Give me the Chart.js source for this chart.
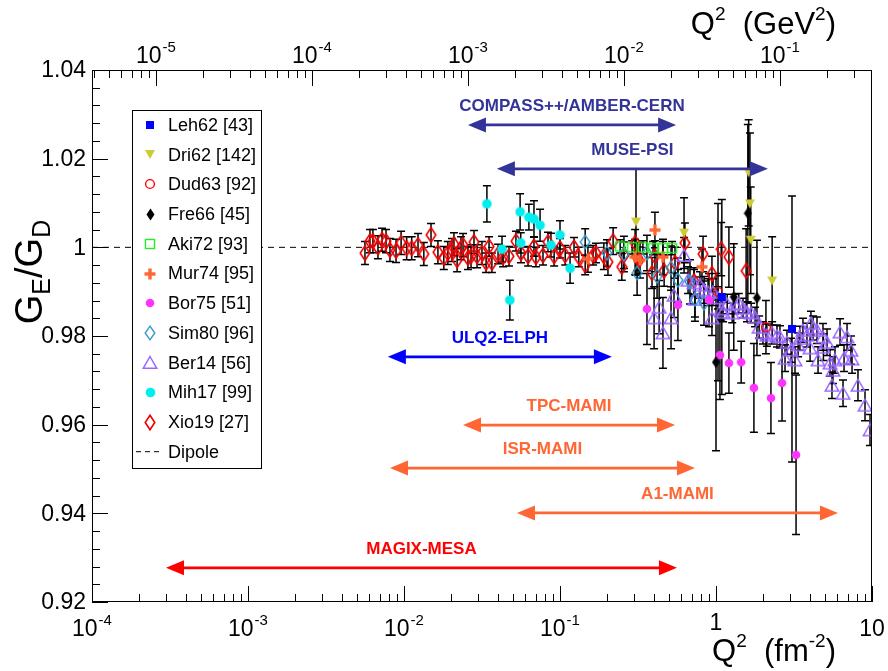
<!DOCTYPE html>
<html lang="en">
<head>
  <meta charset="UTF-8">
  <title>GE/GD vs Q2</title>
  <script src="https://cdn.jsdelivr.net/npm/chart.js"></script>
  <style>
    html, body { margin: 0; padding: 0; background: #fff; }
  </style>
</head>
<body>
  <canvas id="ffChart" width="888" height="671"></canvas>
  <script>
    // Q2 in fm^-2, ratio GE/GD, error
    const HBARC2 = 0.0389379; // GeV^2 per fm^-2 (top axis)

    const leh62Q2 = [1.09, 3.07];
    const leh62G = [0.9888, 0.9816];
    const leh62Err = [0.022, 0.030];

    const dri62Q2 = [0.307, 0.624, 1.62, 1.65, 1.67, 2.29];
    const dri62G = [1.0057, 1.0032, 1.0168, 1.0098, 1.0016, 0.9924];
    const dri62Err = [0.012, 0.008, 0.012, 0.016, 0.012, 0.010];

    const dud63Q2 = [1.03, 2.09];
    const dud63G = [0.9899, 0.9820];
    const dud63Err = [0.020, 0.006];

    const fre66Q2 = [1.00, 1.30, 1.60, 1.83];
    const fre66G = [0.9741, 0.9888, 1.0077, 0.9886];
    const fre66Err = [0.020, 0.012, 0.020, 0.013];

    const aki72Q2 = [0.243, 0.290, 0.340, 0.395, 0.457, 0.523];
    const aki72G = [1.0002, 1.0000, 1.0000, 0.9998, 0.9998, 0.9998];
    const aki72Err = [0.0015, 0.0015, 0.0015, 0.0015, 0.0015, 0.0015];

    const mur74Q2 = [0.151, 0.303, 0.326, 0.406, 0.457, 0.813];
    const mur74G = [0.9974, 0.9978, 0.9971, 1.0039, 0.9978, 0.9956];
    const mur74Err = [0.003, 0.004, 0.004, 0.004, 0.004, 0.004];

    const bor75Q2 = [0.361, 0.570, 0.902, 1.06, 1.21, 1.45, 1.75, 2.25, 2.65, 3.26];
    const bor75G = [0.9861, 0.9870, 0.9881, 0.9757, 0.9739, 0.9741, 0.9683, 0.9660, 0.9694, 0.9532];
    const bor75Err = [0.008, 0.008, 0.006, 0.010, 0.0068, 0.0047, 0.010, 0.008, 0.0086, 0.018];

    const sim80Q2 = [0.145, 0.200, 0.257, 0.312, 0.361, 0.419, 0.515, 0.570, 0.681, 0.733, 0.838];
    const sim80G = [1.0012, 0.9987, 0.9985, 0.9942, 0.9987, 0.9935, 0.9953, 0.9926, 0.9922, 0.9883, 0.9874];
    const sim80Err = [0.003, 0.003, 0.004, 0.005, 0.004, 0.005, 0.005, 0.005, 0.005, 0.005, 0.005];

    const ber14Q2 = [0.401, 0.432, 0.457, 0.515, 0.538, 0.624, 0.662, 0.723, 0.733, 0.789,
      0.838, 0.889, 0.942, 0.957, 1.03, 1.08, 1.11, 1.18, 1.27, 1.32,
      1.40, 1.49, 1.58, 1.68, 1.78, 1.89, 2.00, 2.12, 2.29, 2.46,
      2.57, 2.77, 2.85, 3.03, 3.21, 3.36, 3.45, 3.61, 3.83, 4.01,
      4.06, 4.19, 4.44, 4.51, 4.85, 4.88, 5.15, 5.38, 5.54, 5.62,
      5.79, 6.24, 6.52, 6.62, 6.92, 7.33, 7.45, 8.13, 9.02, 9.71];
    const ber14G = [0.9841, 0.9865, 0.9807, 0.9841, 0.9892, 0.9982, 0.9926, 0.9920, 0.9883, 0.9915,
      0.9904, 0.9899, 0.9841, 0.9899, 0.9886, 0.9861, 0.9854, 0.9872, 0.9852, 0.9872,
      0.9874, 0.9863, 0.9854, 0.9852, 0.9843, 0.9820, 0.9807, 0.9802, 0.9807, 0.9800,
      0.9798, 0.9750, 0.9786, 0.9768, 0.9746, 0.9780, 0.9795, 0.9813, 0.9802, 0.9773,
      0.9829, 0.9818, 0.9813, 0.9746, 0.9798, 0.9775, 0.9786, 0.9739, 0.9689, 0.9723,
      0.9746, 0.9809, 0.9671, 0.9750, 0.9798, 0.9768, 0.9748, 0.9689, 0.9644, 0.9588];
    const ber14Err = [0.007, 0.006, 0.008, 0.007, 0.005, 0.004, 0.003, 0.003, 0.004, 0.003,
      0.003, 0.003, 0.004, 0.003, 0.0025, 0.0025, 0.0022, 0.0022, 0.0022, 0.0022,
      0.0022, 0.0022, 0.0022, 0.0022, 0.0022, 0.0025, 0.0025, 0.0025, 0.0025, 0.0025,
      0.0025, 0.003, 0.0027, 0.0027, 0.003, 0.0027, 0.0027, 0.0027, 0.0027, 0.003,
      0.0027, 0.0027, 0.003, 0.003, 0.003, 0.003, 0.003, 0.003, 0.003, 0.003,
      0.003, 0.003, 0.003, 0.003, 0.003, 0.0032, 0.0032, 0.0035, 0.0035, 0.0035];

    const mih17Q2 = [0.0340, 0.0425, 0.0477, 0.0555, 0.0560, 0.0632, 0.0681, 0.0745, 0.0875, 0.100, 0.116];
    const mih17G = [1.0098, 0.9996, 0.9881, 1.0080, 1.0010, 1.0068, 1.0064, 1.0050, 1.0005, 1.0028, 0.9953];
    const mih17Err = [0.0041, 0.0029, 0.0045, 0.0041, 0.0023, 0.0029, 0.0041, 0.0036, 0.0027, 0.0032, 0.0034];

    const xio19Q2 = [0.00562, 0.00605, 0.00632, 0.00681, 0.00723, 0.00767, 0.00813, 0.00889, 0.00958, 0.0104,
      0.0112, 0.0123, 0.0134, 0.0149, 0.0165, 0.0180, 0.0191, 0.0203, 0.0209, 0.0219,
      0.0232, 0.0239, 0.0257, 0.0269, 0.0281, 0.0294, 0.0316, 0.0336, 0.0351, 0.0366,
      0.0401, 0.0432, 0.0471, 0.0522, 0.0562, 0.0624, 0.0681, 0.0701, 0.0778, 0.0838,
      0.0917, 0.100, 0.108, 0.123, 0.132, 0.145, 0.163, 0.170, 0.191, 0.203,
      0.219, 0.249, 0.257, 0.303, 0.312, 0.321, 0.389, 0.406, 0.465, 0.546,
      0.632, 0.723, 0.826, 0.942, 1.08, 1.21, 1.56];
    const xio19G = [0.9987, 1.0014, 1.0014, 1.0000, 1.0017, 1.0014, 0.9994, 0.9992, 1.0010, 0.9998,
      0.9998, 1.0005, 0.9985, 1.0028, 0.9989, 0.9976, 0.9987, 0.9994, 1.0007, 0.9971,
      0.9998, 1.0005, 0.9976, 0.9980, 1.0012, 0.9980, 0.9987, 0.9965, 1.0002, 0.9965,
      0.9985, 0.9978, 0.9980, 1.0014, 0.9987, 0.9980, 1.0002, 0.9978, 0.9982, 1.0012,
      0.9980, 0.9998, 0.9982, 1.0000, 0.9978, 0.9960, 0.9982, 0.9987, 0.9980, 0.9967,
      1.0014, 0.9956, 0.9982, 1.0010, 0.9978, 0.9971, 0.9942, 0.9980, 0.9947, 0.9965,
      1.0010, 0.9924, 0.9985, 0.9940, 0.9996, 0.9978, 0.9947];
    const xio19Err = [0.0026, 0.0026, 0.0026, 0.0026, 0.0026, 0.0026, 0.0026, 0.0026, 0.0026, 0.0026,
      0.0026, 0.0026, 0.0026, 0.0026, 0.0026, 0.0026, 0.0026, 0.0026, 0.0026, 0.0026,
      0.0026, 0.0026, 0.0026, 0.0026, 0.0026, 0.0026, 0.0026, 0.0022, 0.0022, 0.0022,
      0.0022, 0.0022, 0.0022, 0.0022, 0.0022, 0.0022, 0.0022, 0.0022, 0.0022, 0.0022,
      0.0022, 0.0022, 0.0022, 0.0022, 0.0022, 0.0022, 0.0022, 0.0022, 0.003, 0.003,
      0.003, 0.003, 0.003, 0.003, 0.003, 0.003, 0.0035, 0.0035, 0.0035, 0.0035,
      0.0045, 0.003, 0.004, 0.004, 0.006, 0.0068, 0.0095];

    // future experiments: Q2 range in fm^-2 and height on the GE/GD axis
    const arrowLabels = ['COMPASS++/AMBER-CERN', 'MUSE-PSI', 'ULQ2-ELPH', 'TPC-MAMI', 'ISR-MAMI', 'A1-MAMI', 'MAGIX-MESA'];
    const arrowFrom = [0.0257, 0.0394, 0.00788, 0.0239, 0.00813, 0.0530, 0.000298];
    const arrowTo = [0.555, 2.15, 0.215, 0.546, 0.733, 6.05, 0.562];
    const arrowLevel = [1.0276, 1.0177, 0.9753, 0.9599, 0.9502, 0.9401, 0.9277];
    const arrowColors = ['#333399', '#333399', '#0000ff', '#ff6633', '#ff6633', '#ff6633', '#ff0000'];

    // axis ticks
    const xTickValues = [1e-4, 1e-3, 1e-2, 1e-1, 1, 10];
    const xTickLabels = [['10', '-4'], ['10', '-3'], ['10', '-2'], ['10', '-1'], ['1', ''], ['10', '']];
    const topTickValues = [1e-5, 1e-4, 1e-3, 1e-2, 1e-1]; // GeV^2
    const topTickLabels = [['10', '-5'], ['10', '-4'], ['10', '-3'], ['10', '-2'], ['10', '-1']];
    const yTickValues = [0.92, 0.94, 0.96, 0.98, 1.00, 1.02, 1.04];
    const yTickLabels = ['0.92', '0.94', '0.96', '0.98', '1', '1.02', '1.04'];

    const FONT = '"Liberation Sans", Arial, Helvetica, sans-serif';

    // ---- ROOT-like marker images ----
    function marker(w, h, paint) {
      const c = document.createElement('canvas');
      c.width = w; c.height = h;
      paint(c.getContext('2d'));
      return c;
    }
    function diamondPath(g, w, h, m) {
      g.beginPath();
      g.moveTo(w / 2, m); g.lineTo(w - m, h / 2); g.lineTo(w / 2, h - m); g.lineTo(m, h / 2);
      g.closePath();
    }
    const mLeh = marker(10, 10, g => { g.fillStyle = '#0000ff'; g.fillRect(1, 1, 8, 8); });
    const mDri = marker(12, 11, g => {
      g.fillStyle = '#cccc33'; g.beginPath(); g.moveTo(1, 1); g.lineTo(11, 1); g.lineTo(6, 10); g.closePath(); g.fill();
    });
    const mDud = marker(12, 12, g => { g.strokeStyle = '#ff0000'; g.lineWidth = 1.4; g.beginPath(); g.arc(6, 6, 4.4, 0, Math.PI * 2); g.stroke(); });
    const mFre = marker(9, 13, g => { g.fillStyle = '#000'; diamondPath(g, 9, 13, 0.5); g.fill(); });
    const mAki = marker(12, 12, g => { g.strokeStyle = '#22ee22'; g.lineWidth = 1.4; g.strokeRect(1.5, 1.5, 9, 9); });
    const mMur = marker(12, 12, g => { g.fillStyle = '#ff6633'; g.fillRect(4.3, 0.5, 3.4, 11); g.fillRect(0.5, 4.3, 11, 3.4); });
    const mBor = marker(10, 10, g => { g.fillStyle = '#ff33ff'; g.beginPath(); g.arc(5, 5, 4.3, 0, Math.PI * 2); g.fill(); });
    const mSim = marker(12, 16, g => { g.strokeStyle = '#3399cc'; g.lineWidth = 1.4; diamondPath(g, 12, 16, 1.2); g.stroke(); });
    const mBer = marker(16, 15, g => {
      g.strokeStyle = '#9966ff'; g.lineWidth = 1.5; g.beginPath();
      g.moveTo(8, 1.5); g.lineTo(14.8, 13.3); g.lineTo(1.2, 13.3); g.closePath(); g.stroke();
    });
    const mMih = marker(11, 11, g => { g.fillStyle = '#00eeee'; g.beginPath(); g.arc(5.5, 5.5, 4.8, 0, Math.PI * 2); g.fill(); });
    const mXio = marker(12, 17, g => { g.strokeStyle = '#ee0000'; g.lineWidth = 1.6; diamondPath(g, 12, 17, 1.2); g.stroke(); });

    function series(label, q2, gg, err, style) {
      return {
        type: 'scatter',
        label: label,
        data: q2.map((q, i) => ({ x: q, y: gg[i] })),
        err: err,
        pointStyle: style,
        pointRadius: 5,
        pointHoverRadius: 5
      };
    }

    const datasets = [
      series('Leh62 [43]', leh62Q2, leh62G, leh62Err, mLeh),
      series('Dri62 [142]', dri62Q2, dri62G, dri62Err, mDri),
      series('Dud63 [92]', dud63Q2, dud63G, dud63Err, mDud),
      series('Fre66 [45]', fre66Q2, fre66G, fre66Err, mFre),
      series('Aki72 [93]', aki72Q2, aki72G, aki72Err, mAki),
      series('Mur74 [95]', mur74Q2, mur74G, mur74Err, mMur),
      series('Bor75 [51]', bor75Q2, bor75G, bor75Err, mBor),
      series('Sim80 [96]', sim80Q2, sim80G, sim80Err, mSim),
      series('Ber14 [56]', ber14Q2, ber14G, ber14Err, mBer),
      series('Mih17 [99]', mih17Q2, mih17G, mih17Err, mMih),
      series('Xio19 [27]', xio19Q2, xio19G, xio19Err, mXio),
      {
        type: 'line', label: 'Dipole', order: 50,
        data: [{ x: 1e-4, y: 1 }, { x: 10, y: 1 }],
        borderColor: '#000', borderWidth: 1, borderDash: [6, 5], pointRadius: 0
      }
    ];

    // error bars under the markers
    const errorBars = {
      id: 'errorBars',
      beforeDatasetsDraw(chart) {
        const { ctx, chartArea: a, scales: { x, y } } = chart;
        ctx.save();
        ctx.beginPath(); ctx.rect(a.left, a.top, a.right - a.left, a.bottom - a.top); ctx.clip();
        ctx.strokeStyle = '#000'; ctx.lineWidth = 1.5;
        chart.data.datasets.forEach(ds => {
          if (!ds.err) return;
          ds.data.forEach((p, i) => {
            const px = x.getPixelForValue(p.x);
            const t = y.getPixelForValue(p.y + ds.err[i]);
            const b = y.getPixelForValue(p.y - ds.err[i]);
            ctx.beginPath();
            ctx.moveTo(px, t); ctx.lineTo(px, b);
            ctx.moveTo(px - 4, t); ctx.lineTo(px + 4, t);
            ctx.moveTo(px - 4, b); ctx.lineTo(px + 4, b);
            ctx.stroke();
          });
        });
        ctx.restore();
      }
    };

    // double arrows for the planned experiments
    const rangeArrows = {
      id: 'rangeArrows',
      afterDatasetsDraw(chart) {
        const { ctx, scales: { x, y } } = chart;
        ctx.save();
        arrowLabels.forEach((lab, i) => {
          const x1 = x.getPixelForValue(arrowFrom[i]);
          const x2 = x.getPixelForValue(arrowTo[i]);
          const py = y.getPixelForValue(arrowLevel[i]);
          const head = 18, half = 7.5;
          ctx.strokeStyle = arrowColors[i]; ctx.fillStyle = arrowColors[i];
          ctx.lineWidth = 2.8;
          ctx.beginPath(); ctx.moveTo(x1 + head - 2, py); ctx.lineTo(x2 - head + 2, py); ctx.stroke();
          ctx.beginPath(); ctx.moveTo(x1, py); ctx.lineTo(x1 + head, py - half); ctx.lineTo(x1 + head, py + half); ctx.closePath(); ctx.fill();
          ctx.beginPath(); ctx.moveTo(x2, py); ctx.lineTo(x2 - head, py - half); ctx.lineTo(x2 - head, py + half); ctx.closePath(); ctx.fill();
          ctx.font = 'bold 17px ' + FONT;
          ctx.textAlign = 'center'; ctx.textBaseline = 'middle';
          ctx.fillText(lab, (x1 + x2) / 2, py - 19);
        });
        ctx.restore();
      }
    };

    function powLabel(ctx, cx, base, pair, big, small, rise) {
      ctx.font = big + 'px ' + FONT;
      const w1 = ctx.measureText(pair[0]).width;
      ctx.font = small + 'px ' + FONT;
      const w2 = pair[1] ? ctx.measureText(pair[1]).width + 1 : 0;
      const x0 = cx - (w1 + w2) / 2;
      ctx.textAlign = 'left'; ctx.textBaseline = 'alphabetic';
      ctx.font = big + 'px ' + FONT;
      ctx.fillText(pair[0], x0, base);
      if (pair[1]) {
        ctx.font = small + 'px ' + FONT;
        ctx.fillText(pair[1], x0 + w1 + 1, base - rise);
      }
    }

    // draws a sequence of [text, size, dy] pieces, returns total width
    function pieces(ctx, list, x0, base, measureOnly) {
      let xx = x0;
      list.forEach(p => {
        ctx.font = p[1] + 'px ' + FONT;
        if (!measureOnly) ctx.fillText(p[0], xx, base + p[2]);
        xx += ctx.measureText(p[0]).width;
      });
      return xx - x0;
    }

    // frame, inward ticks, labels and titles in ROOT style
    const rootAxes = {
      id: 'rootAxes',
      afterDraw(chart) {
        const { ctx, chartArea: a, scales: { x, y } } = chart;
        ctx.save();
        ctx.strokeStyle = '#000'; ctx.fillStyle = '#000'; ctx.lineWidth = 1;
        ctx.strokeRect(Math.round(a.left) + 0.5, Math.round(a.top) + 0.5, Math.round(a.right - a.left) - 1, Math.round(a.bottom - a.top) - 1);

        ctx.beginPath();
        for (let e = -4; e <= 1; e++) {
          for (let k = 1; k <= 9; k++) {
            const v = k * Math.pow(10, e);
            if (v > 10.0001) continue;
            const px = Math.round(x.getPixelForValue(v)) + 0.5;
            const len = k === 1 ? 16 : 8;
            ctx.moveTo(px, a.bottom); ctx.lineTo(px, a.bottom - len);
          }
        }
        for (let e = -6; e <= 0; e++) {
          for (let k = 1; k <= 9; k++) {
            const v = k * Math.pow(10, e) / HBARC2;
            if (v < 1e-4 || v > 10) continue;
            const px = Math.round(x.getPixelForValue(v)) + 0.5;
            const len = k === 1 ? 16 : 8;
            ctx.moveTo(px, a.top); ctx.lineTo(px, a.top + len);
          }
        }
        for (let i = 0; i <= 30; i++) {
          const v = 0.92 + i * 0.004;
          const py = Math.round(y.getPixelForValue(v)) + 0.5;
          const len = i % 5 === 0 ? 16 : 8;
          ctx.moveTo(a.left, py); ctx.lineTo(a.left + len, py);
        }
        ctx.stroke();

        // tick labels
        xTickValues.forEach((v, i) => {
          const px = x.getPixelForValue(v);
          const base = xTickLabels[i][1] ? 636 : (v === 1 ? 630 : 636);
          powLabel(ctx, px, base, xTickLabels[i], 23, 15, 11);
        });
        topTickValues.forEach((v, i) => {
          powLabel(ctx, x.getPixelForValue(v / HBARC2), 63, topTickLabels[i], 23, 15, 11);
        });
        ctx.font = '23px ' + FONT;
        ctx.textAlign = 'right'; ctx.textBaseline = 'middle';
        yTickValues.forEach((v, i) => {
          ctx.fillText(yTickLabels[i], a.left - 6, y.getPixelForValue(v) + 1);
        });

        // axis titles
        ctx.textAlign = 'left'; ctx.textBaseline = 'alphabetic';
        const bottomTitle = [['Q', 31, 0], ['2', 19, -14], ['  (fm', 31, 0], ['-2', 19, -14], [')', 31, 0]];
        let w = pieces(ctx, bottomTitle, 0, 0, true);
        pieces(ctx, bottomTitle, 836 - w, 661, false);
        const topTitle = [['Q', 31, 0], ['2', 19, -14], ['  (GeV', 31, 0], ['2', 19, -14], [')', 31, 0]];
        w = pieces(ctx, topTitle, 0, 0, true);
        pieces(ctx, topTitle, 836 - w, 34, false);

        const yTitle = [['G', 38, 0], ['E', 25, 8], ['/G', 38, 0], ['D', 25, 8]];
        w = pieces(ctx, yTitle, 0, 0, true);
        ctx.translate(42, 272 + w / 2);
        ctx.rotate(-Math.PI / 2);
        pieces(ctx, yTitle, 0, 0, false);
        ctx.restore();
      }
    };

    // legend box inside the frame
    const legendBox = {
      id: 'legendBox',
      afterDraw(chart) {
        const { ctx } = chart;
        const L = 132, T = 110, R = 261, B = 468;
        ctx.save();
        ctx.fillStyle = '#fff'; ctx.fillRect(L, T, R - L, B - T);
        ctx.strokeStyle = '#000'; ctx.lineWidth = 1;
        ctx.strokeRect(L + 0.5, T + 0.5, R - L, B - T);
        ctx.font = '18px ' + FONT; ctx.fillStyle = '#000';
        ctx.textAlign = 'left'; ctx.textBaseline = 'middle';
        chart.data.datasets.forEach((ds, i) => {
          const cy = 125 + i * 29.7;
          if (ds.err) {
            const s = ds.pointStyle;
            ctx.drawImage(s, Math.round(150 - s.width / 2), Math.round(cy - s.height / 2));
          } else {
            ctx.beginPath(); ctx.setLineDash([5, 4]);
            ctx.moveTo(136, cy); ctx.lineTo(163, cy); ctx.stroke(); ctx.setLineDash([]);
          }
          ctx.fillStyle = '#000';
          ctx.fillText(ds.label, 168, cy + 1);
        });
        ctx.restore();
      }
    };

    new Chart(document.getElementById('ffChart'), {
      data: { datasets: datasets },
      options: {
        responsive: false,
        animation: false,
        layout: { padding: { left: 92, right: 16, top: 70, bottom: 69 } },
        plugins: { legend: { display: false }, tooltip: { enabled: false } },
        scales: {
          x: { type: 'logarithmic', min: 1e-4, max: 10, display: false },
          y: { type: 'linear', min: 0.92, max: 1.04, display: false }
        }
      },
      plugins: [errorBars, rangeArrows, rootAxes, legendBox]
    });
  </script>
</body>
</html>
